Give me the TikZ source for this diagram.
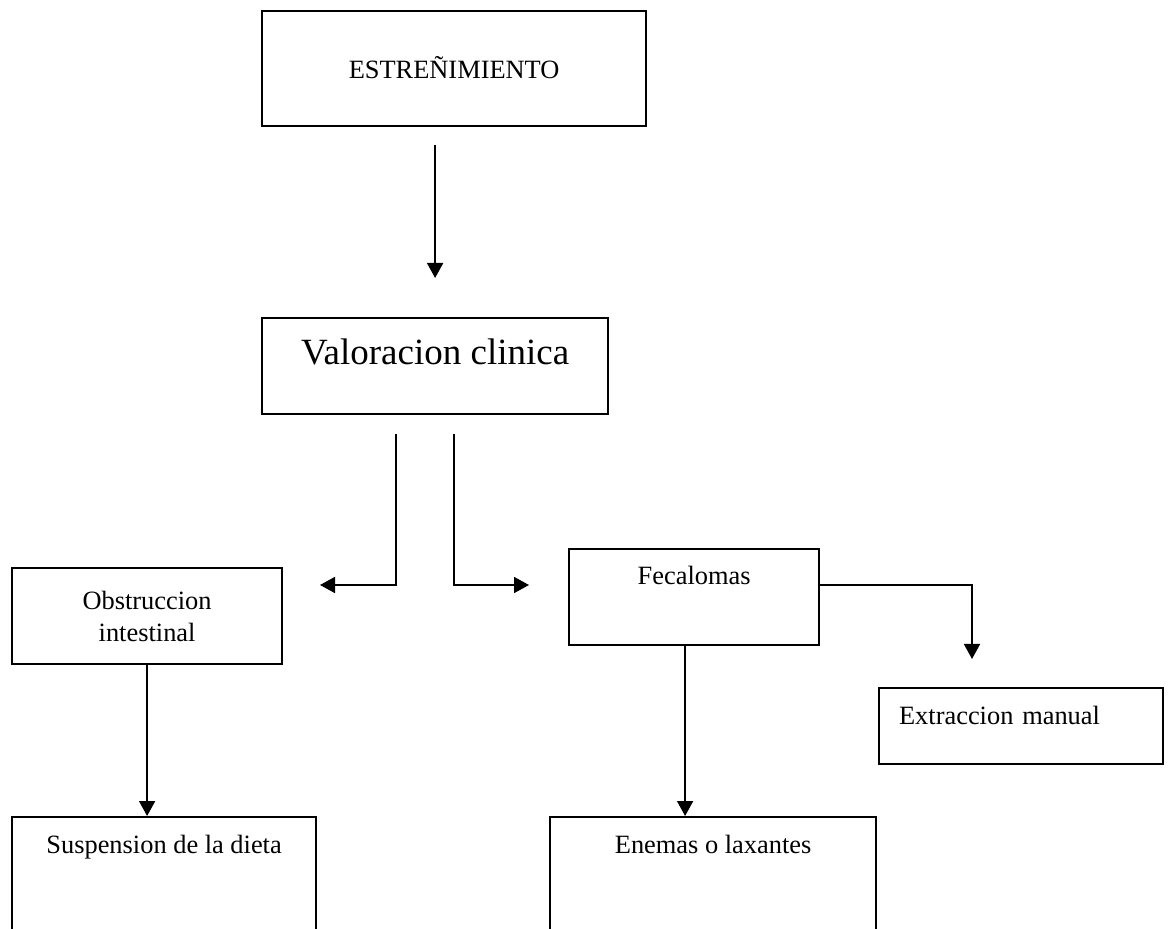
\documentclass[tikz,border=0pt]{standalone}
\usepackage{fontspec}
\setmainfont{Liberation Serif}
\usetikzlibrary{arrows.meta, positioning}
\tikzstyle{block}=[draw,rectangle,line width=1.1pt,inner sep=0pt,anchor=north west]
\tikzstyle{every node}=[font=\fontsize{13.2}{16}\selectfont]
\tikzstyle{link}=[->,line width=0.85pt]

\begin{document}
\begin{tikzpicture}[x=0.5pt,y=-0.5pt,>={Triangle[length=7.5pt,width=8pt]}]
  \useasboundingbox (0,0) rectangle (1172,929);
  % boxes
  \node[block, minimum width=192pt, text height=33.5pt, text depth=24pt] (estr) at (261,10) {ESTREÑIMIENTO};
  \node[block, minimum width=173pt, text height=23pt, text depth=25pt,
    font=\fontsize{18.5}{22}\selectfont] (valor) at (261,317) {Valoracion clinica};
  \node[block, minimum width=135pt, minimum height=48pt, align=center] (obst) at (11,567) {Obstruccion\\intestinal};
  \node[block, minimum width=125pt, text height=17.5pt, text depth=30.5pt] (fec) at (568,548) {Fecalomas};
  \node[block, text width=122pt, inner xsep=10pt, align=left, text height=18pt, text depth=20pt] (extr) at (878,687) {Extraccion manual};
  \node[block, minimum width=152pt, text height=18pt, text depth=60pt] (susp) at (11,816) {Suspension de la dieta};
  \node[block, minimum width=163pt, text height=18pt, text depth=60pt] (enem) at (549,816) {Enemas o laxantes};
  % arrow ends
  \coordinate (tipL) at (320,585);
  \coordinate (tipR) at (529,585);
  \coordinate (tipX) at (972,659);
  % links
  \draw[link, shorten <=9pt, shorten >=19.5pt] (valor.north |- estr.south) -- (valor.north);
  \draw[link] ([xshift=-19.5pt,yshift=-9.5pt]valor.south) |- (tipL);
  \draw[link] ([xshift=9.5pt,yshift=-9.5pt]valor.south) |- (tipR);
  \draw[link] ([yshift=6pt]fec.east) -| (tipX);
  \draw[link] (obst.south) -- (obst.south |- susp.north);
  \draw[link] ([xshift=-4.5pt]fec.south) -- ([xshift=-4.5pt]fec.south |- enem.north);
\end{tikzpicture}
\end{document}
